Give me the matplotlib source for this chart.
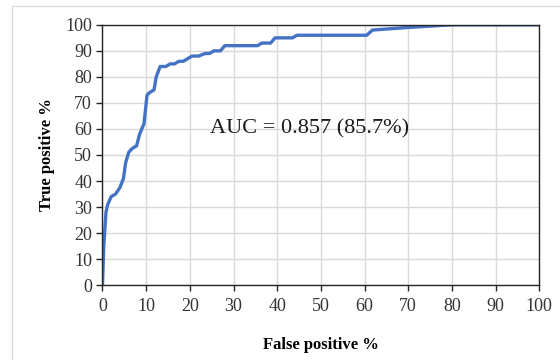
import matplotlib
matplotlib.use("Agg")
import matplotlib.pyplot as plt
from matplotlib.patches import Rectangle

# ROC curve points (percent)
fpr = [0, 0.3, 0.8, 1.2, 2.0, 3.0, 4.0, 4.8, 5.3, 6.0,
       6.8, 7.8, 8.5, 9.5, 10.2, 10.8, 11.8, 12.3, 13.2, 14.5,
       15.5, 16.5, 17.5, 18.5, 19.5, 20.5, 22.0, 23.5, 24.5, 25.5,
       27.0, 28.0, 35.5, 36.5, 38.5, 39.5, 43.5, 44.5, 60.5, 61.8,
       70, 80, 100]
tpr = [0, 15, 28, 31, 34, 35, 37.5, 41, 47, 51,
       52.5, 53.5, 58, 62, 73, 74, 75, 80, 84, 84,
       85, 85, 86, 86, 87, 88, 88, 89, 89, 90,
       90, 92, 92, 93, 93, 95, 95, 96, 96, 98,
       99, 100, 100]
ticks = list(range(0, 101, 10))
auc_label = "AUC = 0.857 (85.7%)"

plt.rcParams['font.family'] = ['Liberation Serif', 'DejaVu Serif']

fig = plt.figure(figsize=(5.6, 3.6), dpi=100)
# light outer frame
fig.patches.append(Rectangle((0.021, -0.1), 1.1, 1.083, transform=fig.transFigure,
                             fill=False, edgecolor='#dcdcdc', lw=1.0))

ax = fig.add_axes([0.183, 0.208, 0.780, 0.723])
ax.plot(fpr, tpr, color='#4472C4', lw=2.4, solid_joinstyle='round', solid_capstyle='round')

ax.set_xlim(0, 100)
ax.set_ylim(0, 100)
ax.set_xticks(ticks)
ax.set_yticks(ticks)
ax.grid(True, color='#d9d9d9', lw=1.0)
ax.set_axisbelow(True)
for s in ax.spines.values():
    s.set_color('#262626')
    s.set_linewidth(1.0)
ax.tick_params(direction='out', length=4, width=1, colors='#262626', labelsize=13,
               labelcolor='#333333')
ax.tick_params(axis='x', pad=5)

ax.set_xlabel("False positive %", fontweight='bold', fontsize=12, labelpad=16)
ax.set_ylabel("True positive %", fontweight='bold', fontsize=12, labelpad=7)

ax.text(24.6, 60, auc_label, fontsize=16, va='center', ha='left', color='#1a1a1a')

fig.savefig("out.png", dpi=100)
